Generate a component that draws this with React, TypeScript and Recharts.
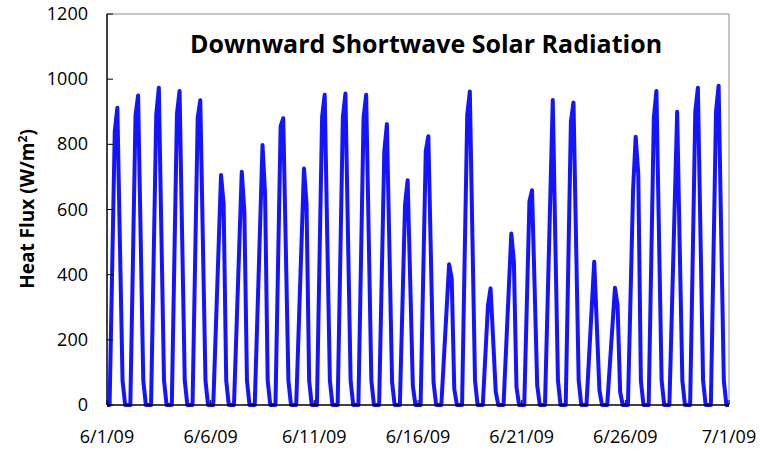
import { LineChart, Line, XAxis, YAxis, ReferenceLine } from 'recharts';

const tickDays = [0, 5, 10, 15, 20, 25, 30];
const tickLabels = ['6/1/09', '6/6/09', '6/11/09', '6/16/09', '6/21/09', '6/26/09', '7/1/09'];
const yTicks = [0, 200, 400, 600, 800, 1000, 1200];
const sampleHours = [0, 3, 6, 9, 12, 15, 18, 21];

// W/m2 every 3 hours, one row per day, 6/1/09 .. 6/30/09
const radiation = [
  [0, 0, 420, 840, 912, 490, 75, 0],
  [0, 0, 440, 888, 950, 510, 75, 0],
  [0, 0, 445, 890, 974, 520, 75, 0],
  [0, 0, 450, 895, 964, 515, 75, 0],
  [0, 0, 440, 882, 935, 500, 75, 0],
  [0, 0, 235, 470, 706, 616, 75, 0],
  [0, 0, 240, 480, 716, 594, 75, 0],
  [0, 0, 265, 530, 798, 647, 75, 0],
  [0, 0, 430, 856, 880, 480, 75, 0],
  [0, 0, 242, 484, 726, 616, 75, 0],
  [0, 0, 445, 885, 952, 510, 75, 0],
  [0, 0, 440, 882, 956, 515, 75, 0],
  [0, 0, 440, 882, 952, 515, 75, 0],
  [0, 0, 390, 779, 862, 470, 70, 0],
  [0, 0, 308, 615, 690, 380, 60, 0],
  [0, 0, 390, 779, 825, 450, 70, 0],
  [0, 0, 144, 288, 432, 389, 50, 0],
  [0, 0, 450, 890, 962, 515, 75, 0],
  [0, 0, 153, 306, 358, 200, 40, 0],
  [0, 0, 175, 350, 526, 440, 55, 0],
  [0, 0, 312, 625, 659, 360, 60, 0],
  [0, 0, 312, 624, 936, 500, 75, 0],
  [0, 0, 435, 871, 928, 500, 75, 0],
  [0, 0, 147, 294, 440, 245, 45, 0],
  [0, 0, 120, 240, 360, 306, 40, 0],
  [0, 0, 330, 662, 823, 708, 75, 0],
  [0, 0, 440, 882, 964, 515, 75, 0],
  [0, 0, 300, 600, 900, 480, 75, 0],
  [0, 0, 450, 902, 974, 520, 75, 0],
  [0, 0, 450, 902, 980, 520, 75, 0],
];
const lastValue = 0; // 7/1/09 00:00

const data = radiation
  .flatMap((row, d) => row.map((v, i) => ({ t: d + sampleHours[i] / 24, flux: v })))
  .concat([{ t: 30, flux: lastValue }]);

const font = 'Open Sans';

function XTick({ x, y, payload }: any) {
  const label = tickLabels[tickDays.indexOf(payload.value)];
  return (
    <g>
      <line x1={x} x2={x} y1={y} y2={y - 5} stroke="#000" strokeWidth={1} />
      <text x={x} y={y + 38} textAnchor="middle" fontSize={18} fontFamily={font} fill="#000">
        {label}
      </text>
    </g>
  );
}

function YTick({ x, y, payload }: any) {
  return (
    <g>
      <line x1={x} x2={x + 6} y1={y} y2={y} stroke="#000" strokeWidth={1} />
      <text x={x - 19} y={y + 6} textAnchor="end" fontSize={18} fontFamily={font} fill="#000">
        {payload.value}
      </text>
    </g>
  );
}

export default function App() {
  return (
    <div style={{ position: 'absolute', left: 0, top: 0, width: 760, height: 451, background: '#fff' }}>
      <LineChart width={760} height={451} data={data} margin={{ top: 14, right: 31, bottom: 0, left: 0 }}>
        <XAxis
          dataKey="t"
          type="number"
          domain={[0, 30]}
          ticks={tickDays}
          interval={0}
          height={46}
          tickSize={0}
          tickMargin={0}
          tickLine={false}
          tick={<XTick />}
          axisLine={{ stroke: '#000', strokeWidth: 1.5 }}
        />
        <YAxis
          type="number"
          domain={[0, 1200]}
          ticks={yTicks}
          interval={0}
          width={107}
          tickSize={0}
          tickMargin={0}
          tickLine={false}
          tick={<YTick />}
          axisLine={{ stroke: '#000', strokeWidth: 1.5 }}
        />
        <ReferenceLine y={1200} stroke="#8c8c8c" strokeWidth={1} />
        <ReferenceLine x={30} stroke="#8c8c8c" strokeWidth={1} />
        <Line
          type="linear"
          dataKey="flux"
          stroke="#1414ff"
          strokeWidth={4}
          strokeLinejoin="round"
          dot={false}
          isAnimationActive={false}
        />
      </LineChart>
      <svg width={760} height={451} style={{ position: 'absolute', left: 0, top: 0, pointerEvents: 'none' }}>
        <text x={426} y={53} textAnchor="middle" fontSize={25} fontWeight="bold" fontFamily={font} fill="#000">
          Downward Shortwave Solar Radiation
        </text>
        <text
          transform="translate(34,209) rotate(-90)"
          textAnchor="middle"
          fontSize={19}
          fontWeight="bold"
          fontFamily={font}
          fill="#000"
        >
          Heat Flux (W/m<tspan dy={-7} fontSize={12}>2</tspan><tspan dy={7}>)</tspan>
        </text>
      </svg>
    </div>
  );
}
